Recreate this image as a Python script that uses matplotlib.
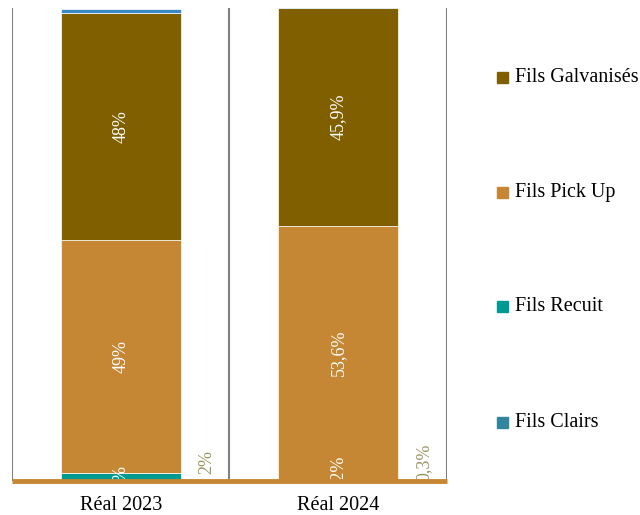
import numpy as np
import matplotlib.pyplot as plt

plt.rcParams['font.family'] = ['Liberation Serif', 'DejaVu Serif']

categories = ['Réal 2023', 'Réal 2024']
# stacked from bottom: Recuit, Pick Up, Galvanisés, Clairs
recuit = [1.7, 0.2]
pick_up = [49.0, 53.6]
galva = [48.0, 45.9]
clairs = [0.8, 0.3]
recuit_lbl = ['2%', '0,2%']
pick_lbl = ['49%', '53,6%']
galva_lbl = ['48%', '45,9%']
side_lbl = ['2%', '0,3%']

colors = {'Fils Galvanisés': '#7f5f00', 'Fils Pick Up': '#c58733',
          'Fils Recuit': '#009a93', 'Fils Clairs': '#3a88c4'}

fig = plt.figure(figsize=(6.4, 5.15), dpi=100)
ax = fig.add_axes([0.019, 0.066, 0.679, 0.9185])

x = np.arange(len(categories))
w = 0.55
b0 = np.zeros(2)
ax.bar(x, recuit, w, bottom=b0, color=colors['Fils Recuit'], edgecolor='white', linewidth=0.5)
b1 = b0 + recuit
ax.bar(x, pick_up, w, bottom=b1, color=colors['Fils Pick Up'], edgecolor='white', linewidth=0.5)
b2 = b1 + pick_up
ax.bar(x, galva, w, bottom=b2, color=colors['Fils Galvanisés'], edgecolor='white', linewidth=0.5)
b3 = b2 + galva
ax.bar(x, clairs, w, bottom=b3, color=colors['Fils Clairs'], edgecolor='white', linewidth=0.5)

side_y = [1.4, 0.0]
low_y = [0.85, 1.4]
for i in range(2):
    ax.text(x[i], b1[i] + pick_up[i] / 2, pick_lbl[i], rotation=90, color='white',
            ha='center', va='center', fontsize=13)
    ax.text(x[i], b2[i] + galva[i] / 2, galva_lbl[i], rotation=90, color='white',
            ha='center', va='center', fontsize=13)
    ax.text(x[i], low_y[i], recuit_lbl[i], rotation=90, color='white',
            ha='center', va='center', fontsize=13, clip_on=True)
    ax.text(x[i] + w / 2 + 0.12, side_y[i], side_lbl[i], rotation=90, color='#9a9560',
            ha='center', va='bottom', fontsize=13, clip_on=True)

ax.set_xlim(-0.5, 1.5)
ax.set_ylim(0, 99.7)
for xv in [-0.5, 0.5, 1.5]:
    ax.axvline(xv, color='#808080', linewidth=1.5)
for s in ['left', 'right', 'top']:
    ax.spines[s].set_visible(False)
ax.spines['bottom'].set_color('#c58733')
ax.spines['bottom'].set_linewidth(3.5)
ax.spines['bottom'].set_capstyle('butt')
ax.spines['bottom'].set_zorder(5)
ax.set_yticks([])
ax.set_xticks(x)
ax.set_xticklabels(categories, fontsize=14.5)
ax.tick_params(axis='x', length=0, pad=11)

legend_y = [0.85, 0.627, 0.405, 0.18]
legend_names = ['Fils Galvanisés', 'Fils Pick Up', 'Fils Recuit', 'Fils Clairs']
for name, ly in zip(legend_names, legend_y):
    fig.patches.append(plt.Rectangle((0.777, ly - 0.011), 0.017, 0.021, transform=fig.transFigure,
                                     color=colors[name] if name != 'Fils Clairs' else '#31859c'))
    fig.text(0.804, ly, name, fontsize=14.5, va='center', ha='left')

fig.savefig('out.png', dpi=100)
